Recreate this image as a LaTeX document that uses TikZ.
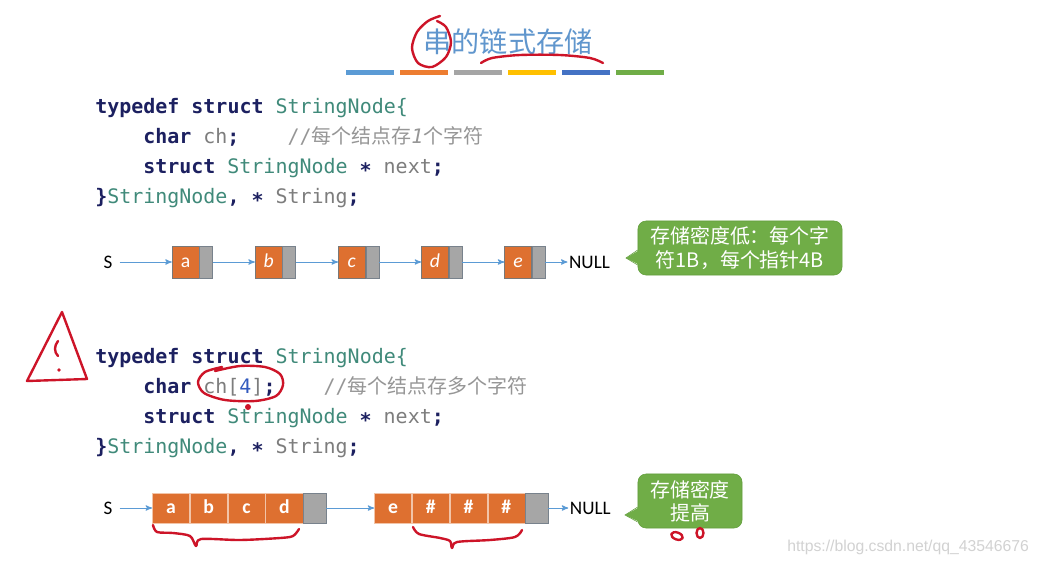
\documentclass[tikz,border=0pt]{standalone}
\usepackage{fontspec}
\setmainfont{Carlito}
\setmonofont{DejaVu Sans Mono}
\newfontfamily\cjk{Noto Sans CJK SC}
\newfontfamily\wmfont{Liberation Sans}
\usetikzlibrary{positioning, arrows, calc}
\definecolor{titleblue}{RGB}{96,150,205}
\definecolor{barblue}{RGB}{91,155,213}
\definecolor{barorange}{RGB}{237,125,49}
\definecolor{bargray}{RGB}{165,165,165}
\definecolor{baryellow}{RGB}{255,192,0}
\definecolor{barnavy}{RGB}{68,114,196}
\definecolor{bargreen}{RGB}{112,173,71}
\definecolor{kwnavy}{RGB}{28,32,96}
\definecolor{typeteal}{RGB}{64,138,122}
\definecolor{idgray}{RGB}{125,125,125}
\definecolor{cmtgray}{RGB}{150,150,150}
\definecolor{numblue}{RGB}{50,90,190}
\definecolor{cellorange}{RGB}{222,112,48}
\definecolor{cellline}{RGB}{120,120,120}
\definecolor{blkline}{RGB}{242,196,168}
\definecolor{ptrgray}{RGB}{166,166,166}
\definecolor{ptrline}{RGB}{120,130,140}
\definecolor{arrowblue}{RGB}{91,155,213}
\definecolor{bubblegreen}{RGB}{112,173,71}
\definecolor{bubbleline}{RGB}{98,158,60}
\definecolor{penred}{RGB}{205,20,40}
\newcommand{\kw}[1]{\textcolor{kwnavy}{\bfseries #1}}
\newcommand{\ty}[1]{\textcolor{typeteal}{#1}}
\newcommand{\idf}[1]{\textcolor{idgray}{#1}}
\newcommand{\cmt}[1]{\textcolor{cmtgray}{#1}}
\tikzset{
>=stealth', % small bold arrow heads
headline/.style={font=\cjk\fontsize{20}{24}\selectfont, text=titleblue},
codeline/.style={anchor=base west, inner sep=0pt, font=\ttfamily\fontsize{14.2}{17}\selectfont}, % one line of C code
datacell/.style={draw=cellline, fill=cellorange, text=white, minimum width=0.675cm, minimum height=0.8cm, inner sep=0pt, text height=1.5ex, text depth=0pt, font=\fontsize{14}{16}\selectfont\itshape}, % the char of a node
ptrcell/.style={draw=ptrline, fill=ptrgray, minimum width=0.325cm, minimum height=0.8cm, inner sep=0pt}, % the next pointer
blkcell/.style={draw=blkline, fill=cellorange, text=white, minimum width=0.93cm, minimum height=0.75cm, inner sep=0pt, text height=1.5ex, text depth=0pt, font=\bfseries\fontsize{14}{16}\selectfont},
blkptr/.style={ptrcell, minimum width=0.56cm, minimum height=0.75cm},
endlabel/.style={inner sep=1pt, font=\fontsize{13.6}{16}\selectfont},
startlabel/.style={endlabel, inner xsep=5pt},
chainarrow/.style={->, draw=arrowblue, line width=0.7pt},
bubble/.style={draw=bubbleline, fill=bubblegreen, rounded corners=0.2cm, text=white, align=center, inner sep=0pt, font=\cjk\fontsize{14.2}{16.5}\selectfont},
pen/.style={draw=penred, line width=1.7pt, line cap=round, line join=round}, % hand drawn marks
watermark/.style={anchor=west, inner sep=0pt, font=\wmfont\fontsize{11.2}{13}\selectfont, text=gray!35}
}

\begin{document}
\begin{tikzpicture}[x=0.025cm, y=-0.025cm]
  \useasboundingbox (0,0) rectangle (1040,566);
  \fill[white] (0,0) rectangle (1040,566);

  \node[headline] (title) at (508,42) {串的链式存储};
  \foreach \col [count=\i from 0] in {barblue,barorange,bargray,baryellow,barnavy,bargreen}
    \fill[\col] ({346+54*\i},70) rectangle ++(48,5);

  \node[codeline] (one1) at (95,113) {\kw{typedef struct} \ty{StringNode\{}};
  \node[codeline] (one2) at (143,143) {\kw{char} \idf{ch}\kw{;}\phantom{xxxx}\cmt{//{\cjk 每个结点存}\textit{1}{\cjk 个字符}}};
  \node[codeline] (one3) at (143,173) {\kw{struct} \ty{StringNode} \kw{∗} \idf{next}\kw{;}};
  \node[codeline] (one4) at (95,203) {\kw{\}}\ty{StringNode}\kw{,} \kw{∗} \idf{String}\kw{;}};

  \node[startlabel] (s1) at (108,262) {S};
  \node[datacell] (a) at (185.5,262) {\upshape a};
  \node[ptrcell, right=0pt of a] (pa) {};
  \node[datacell, right=1.05cm of pa] (b) {b};
  \node[ptrcell, right=0pt of b] (pb) {};
  \node[datacell, right=1.05cm of pb] (c) {c};
  \node[ptrcell, right=0pt of c] (pc) {};
  \node[datacell, right=1.05cm of pc] (d) {d};
  \node[ptrcell, right=0pt of d] (pd) {};
  \node[datacell, right=1.05cm of pd] (e) {e};
  \node[ptrcell, right=0pt of e] (pe) {};
  \node[endlabel, right=0.55cm of pe] (null1) {NULL};
  \draw[chainarrow] (s1) -- (a);
  \draw[chainarrow] (pa) -- (b);
  \draw[chainarrow] (pb) -- (c);
  \draw[chainarrow] (pc) -- (d);
  \draw[chainarrow] (pd) -- (e);
  \draw[chainarrow] (pe) -- (null1);

  \node[bubble, minimum width=5.1cm, minimum height=1.35cm] (note1) at (740,248) {存储密度低：每个字\\符1B，每个指针4B};
  \coordinate (tip1) at (626,258);
  \fill[bubblegreen] ($(note1.west)+(2,2)$) -- (tip1) -- ($(note1.west)+(2,17)$) -- cycle;
  \draw[bubbleline] ($(note1.west)+(0,2)$) -- (tip1) -- ($(note1.west)+(0,17)$);

  \node[codeline] (two1) at (95,363) {\kw{typedef struct} \ty{StringNode\{}};
  \node[codeline] (two2) at (143,393) {\kw{char} \idf{ch[}\textcolor{numblue}{4}\idf{]}\kw{;}\phantom{xxxx}\cmt{//{\cjk 每个结点存多个字符}}};
  \node[codeline] (two3) at (143,423) {\kw{struct} \ty{StringNode} \kw{∗} \idf{next}\kw{;}};
  \node[codeline] (two4) at (95,453) {\kw{\}}\ty{StringNode}\kw{,} \kw{∗} \idf{String}\kw{;}};

  \node[startlabel] (s2) at (108,508) {S};
  \node[blkcell] (ca) at (171,508) {a};
  \node[blkcell, right=0pt of ca] (cb) {b};
  \node[blkcell, right=0pt of cb] (cc) {c};
  \node[blkcell, right=0pt of cc] (cd) {d};
  \node[blkptr, right=0pt of cd] (p1) {};
  \node[blkcell, right=1.2cm of p1] (ce) {e};
  \node[blkcell, right=0pt of ce] (ch1) {\#};
  \node[blkcell, right=0pt of ch1] (ch2) {\#};
  \node[blkcell, right=0pt of ch2] (ch3) {\#};
  \node[blkptr, right=0pt of ch3] (p2) {};
  \node[endlabel, right=0.5cm of p2] (null2) {NULL};
  \draw[chainarrow] (s2) -- (ca);
  \draw[chainarrow] (p1) -- (ce);
  \draw[chainarrow] (p2) -- (null2);

  \node[bubble, minimum width=2.6cm, minimum height=1.35cm] (note2) at (690,501) {存储密度\\提高};
  \coordinate (tip2) at (625,515);
  \fill[bubblegreen] ($(note2.west)+(2,6)$) -- (tip2) -- ($(note2.west)+(2,21)$) -- cycle;
  \draw[bubbleline] ($(note2.west)+(0,6)$) -- (tip2) -- ($(note2.west)+(0,21)$);

  \node[watermark] (wm) at (787,547) {https://blog.csdn.net/qq\_43546676};

  \draw[pen] plot[smooth] coordinates {(440,16) (428,21) (417,32) (412,48) (418,63) (432,67) (446,57) (451,42) (446,27) (437,21)};
  \draw[pen] plot[smooth] coordinates {(481,63) (492,58) (520,55) (560,55) (590,58) (603,63)};
  \draw[pen] (62,312) -- (27,381) -- (87,379) -- cycle;
  \draw[pen] (58,341) .. controls (54,346) and (54,352) .. (58,356);
  \fill[penred] (59,370) circle (1.8);
  \draw[pen] plot[smooth] coordinates {(215,371) (240,366) (265,367) (280,374) (283,385) (276,396) (255,401) (225,400) (204,393) (198,382) (205,372) (222,367)};
  \fill[penred] (248,407) circle (3);
  \draw[pen] plot[smooth] coordinates {(153,525) (157,532) (173,533) (190,536) (196,546) (201,539) (240,540) (280,538) (293,536) (299,529)};
  \draw[pen] plot[smooth] coordinates {(413,527) (419,534) (440,538) (450,541) (452,548) (457,542) (490,540) (515,537) (522,530)};
  \draw[pen] (677,536) ellipse [x radius=6, y radius=3.5, rotate=-20];
  \draw[pen] (700,533) ellipse [x radius=3.5, y radius=5];
\end{tikzpicture}
\end{document}
